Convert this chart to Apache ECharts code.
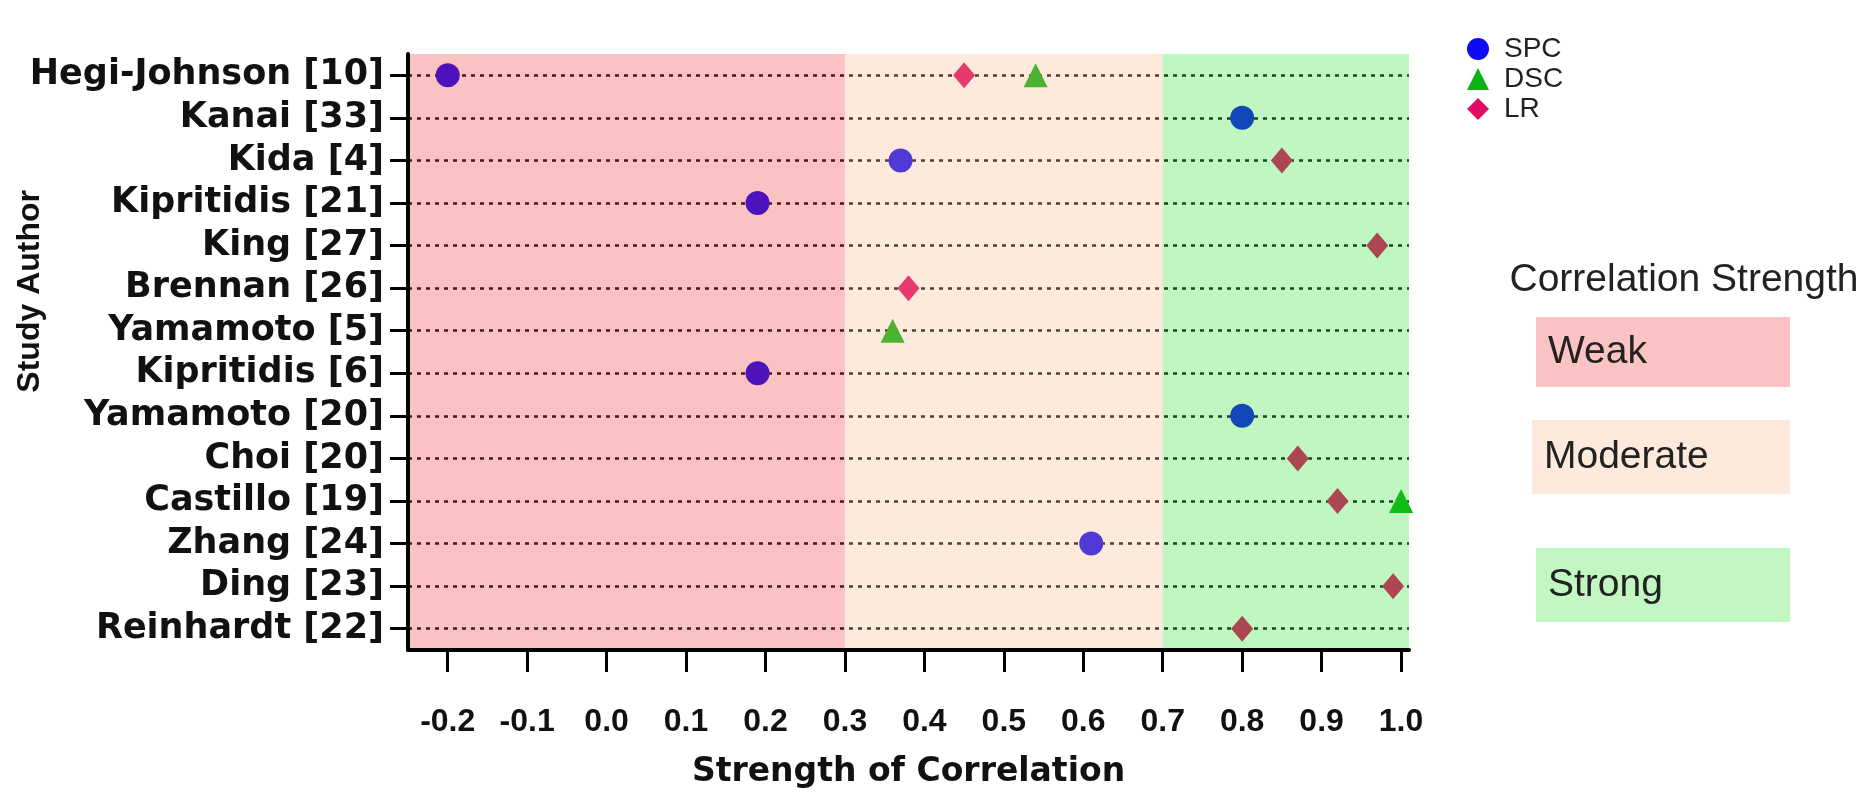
<!DOCTYPE html>
<html>
<head>
<meta charset="utf-8">
<script src="https://cdn.jsdelivr.net/npm/echarts@6/dist/echarts.min.js"></script>
<style>
html,body{margin:0;padding:0;background:#fff;}
#chart{width:1867px;height:794px;}
</style>
</head>
<body>
<div id="chart"></div>
<script>
const categories = ['Hegi-Johnson [10]','Kanai [33]','Kida [4]','Kipritidis [21]','King [27]','Brennan [26]','Yamamoto [5]','Kipritidis [6]','Yamamoto [20]','Choi [20]','Castillo [19]','Zhang [24]','Ding [23]','Reinhardt [22]'];
const spcValues = [-0.2, 0.80, 0.37, 0.19, null, null, null, 0.19, 0.80, null, null, 0.61, null, null];
const dscValues = [0.54, null, null, null, null, null, 0.36, null, null, null, 1.0, null, null, null];
const lrValues  = [0.45, null, 0.85, null, 0.97, 0.38, null, null, null, 0.87, 0.92, null, 0.99, 0.80];
const xTicks = [-0.2,-0.1,0.0,0.1,0.2,0.3,0.4,0.5,0.6,0.7,0.8,0.9,1.0];
const bands = [
  {name:'Weak', from:-0.25, to:0.3},
  {name:'Moderate', from:0.3, to:0.7},
  {name:'Strong', from:0.7, to:1.01}
];
const bandOverlay = ['rgba(237,37,37,0.28)','rgba(248,180,130,0.28)','rgba(30,226,30,0.28)'];
const bandBox = ['#fbc3c3','#fdeadc','#c2f7c2'];

function toPoints(vals){
  const out = [];
  vals.forEach((v,i)=>{ if(v!==null) out.push([v, categories[i]]); });
  return out;
}

const chart = echarts.init(document.getElementById('chart'));
const font = 'Liberation Sans, Arial, sans-serif';
const wideFont = 'DejaVu Sans, Liberation Sans, sans-serif';
const option = {
  backgroundColor:'#fff',
  animation:false,
  grid:{left:408, right:458, top:54, bottom:136, containLabel:false},
  legend:{
    data:['SPC','DSC','LR'],
    orient:'vertical', left:1462, top:29,
    itemWidth:22, itemHeight:22, itemGap:0,
    textStyle:{fontSize:28, lineHeight:30, fontFamily:font, color:'#222', padding:[0,0,0,10]}
  },
  xAxis:{
    type:'value', min:-0.25, max:1.01, z:20,
    name:'Strength of Correlation', nameLocation:'middle', nameGap:106,
    nameTextStyle:{fontSize:33, fontWeight:'bold', fontFamily:wideFont, color:'#111'},
    axisLine:{show:true, onZero:false, lineStyle:{color:'#000', width:4}},
    axisTick:{show:true, length:22, lineStyle:{color:'#000', width:3}, customValues:xTicks},
    axisLabel:{fontSize:32, fontWeight:'bold', fontFamily:font, color:'#111', margin:56,
      customValues:xTicks, formatter:v=>v.toFixed(1)},
    splitLine:{show:false}
  },
  yAxis:{
    type:'category', data:categories, inverse:true, z:20,
    axisLine:{show:true, onZero:false, lineStyle:{color:'#000', width:4}},
    axisTick:{show:true, alignWithLabel:true, interval:0, length:18, lineStyle:{color:'#000', width:3}},
    axisLabel:{interval:0, hideOverlap:false, fontSize:35, fontWeight:'bold', fontFamily:wideFont, color:'#111', margin:24},
    splitLine:{show:false}
  },
  graphic:[
    {type:'text', left:14, top:190, rotation:Math.PI/2, style:{text:'Study Author', font:'bold 32px '+font, fill:'#111'}},
    {type:'text', x:1684, y:280, style:{text:'Correlation Strength', font:'39px '+font, fill:'#222', textAlign:'center', textVerticalAlign:'middle'}},
    {type:'rect', shape:{x:1536,y:317,width:254,height:70}, style:{fill:bandBox[0]}},
    {type:'text', x:1548, y:352, style:{text:'Weak', font:'39px '+font, fill:'#222', textVerticalAlign:'middle'}},
    {type:'rect', shape:{x:1532,y:420,width:258,height:74}, style:{fill:bandBox[1]}},
    {type:'text', x:1544, y:457, style:{text:'Moderate', font:'39px '+font, fill:'#222', textVerticalAlign:'middle'}},
    {type:'rect', shape:{x:1536,y:548,width:254,height:74}, style:{fill:bandBox[2]}},
    {type:'text', x:1548, y:585, style:{text:'Strong', font:'39px '+font, fill:'#222', textVerticalAlign:'middle'}}
  ],
  series:[
    {
      name:'grid', type:'scatter', data:[], z:1, silent:true,
      markLine:{silent:true, z:1, symbol:'none', label:{show:false},
        lineStyle:{color:'#111', width:2.5, type:[4,5]},
        data:categories.map(c=>({yAxis:c}))}
    },
    {name:'SPC', type:'scatter', symbol:'circle', symbolSize:24, z:3, itemStyle:{color:'rgb(14,12,245)', opacity:1}, data:toPoints(spcValues)},
    {name:'DSC', type:'scatter', symbol:'triangle', symbolSize:24, z:3, itemStyle:{color:'rgb(10,178,20)', opacity:1}, data:toPoints(dscValues)},
    {name:'LR', type:'scatter', symbol:'diamond', symbolSize:[22,26], z:3, itemStyle:{color:'rgb(226,10,103)', opacity:1}, data:toPoints(lrValues)},
    {
      name:'bands', type:'scatter', data:[], z:10, silent:true,
      markArea:{silent:true, z:10, label:{show:false},
        data:bands.map((b,i)=>[{xAxis:b.from, itemStyle:{color:bandOverlay[i]}},{xAxis:b.to}])}
    }
  ]
};
chart.setOption(option);
</script>
</body>
</html>
